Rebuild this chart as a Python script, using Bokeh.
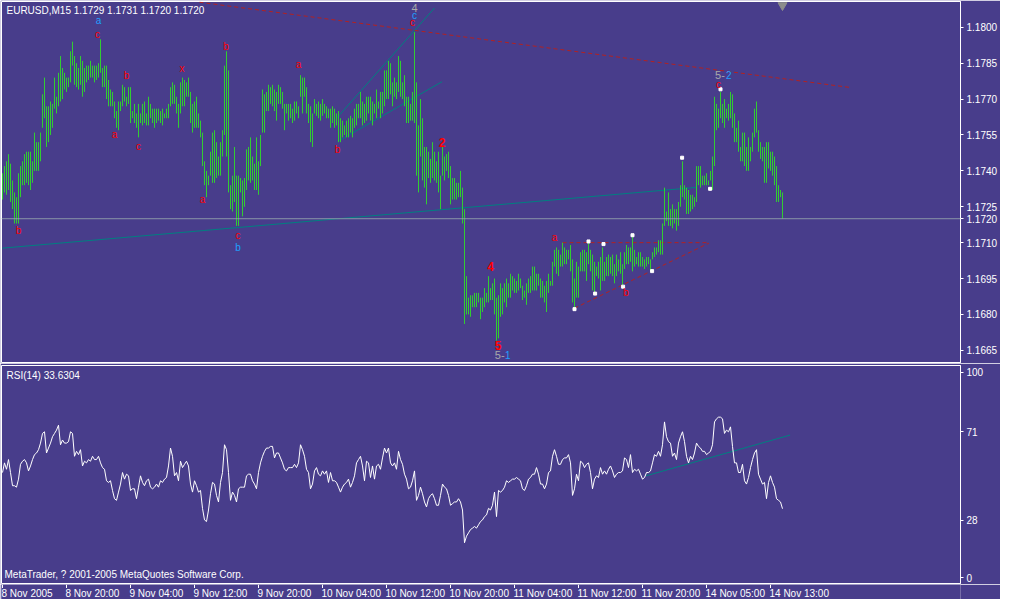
from bokeh.plotting import figure
from bokeh.layouts import column
from bokeh.models import Range1d, FixedTicker, Label, Span
from bokeh.core.properties import value
from bokeh.embed import file_html
from bokeh.resources import INLINE

symbol = "EURUSD,M15"
last_ohlc = [1.1729, 1.1731, 1.1720, 1.1720]

high = [
1.1739, 1.1742, 1.1744, 1.1747, 1.1743, 1.1736, 1.1731, 1.1729, 1.1739, 1.1742,
1.1744, 1.1747, 1.1748, 1.1748, 1.1748, 1.1744, 1.1756, 1.1752, 1.1752, 1.1756,
1.1772, 1.1779, 1.1767, 1.1767, 1.1769, 1.1768, 1.1779, 1.1771, 1.1781, 1.1788,
1.1783, 1.1781, 1.1779, 1.1779, 1.1790, 1.1794, 1.1788, 1.1785, 1.1783, 1.1788,
1.1786, 1.1783, 1.1784, 1.1784, 1.1786, 1.1784, 1.1784, 1.1784, 1.1785, 1.1795,
1.1783, 1.1784, 1.1784, 1.1778, 1.1774, 1.1773, 1.1769, 1.1765, 1.1769, 1.1769,
1.1776, 1.1775, 1.1771, 1.1775, 1.1775, 1.1765, 1.1768, 1.1764, 1.1768, 1.1764,
1.1768, 1.1769, 1.1764, 1.1771, 1.1768, 1.1766, 1.1766, 1.1766, 1.1766, 1.1765,
1.1766, 1.1764, 1.1766, 1.1768, 1.1775, 1.1777, 1.1776, 1.1771, 1.1768, 1.1777,
1.1779, 1.1778, 1.1777, 1.1779, 1.1773, 1.1768, 1.1769, 1.1771, 1.1764, 1.1761,
1.1756, 1.1744, 1.1740, 1.1738, 1.1748, 1.1756, 1.1757, 1.1752, 1.1746, 1.1752,
1.1757, 1.1784, 1.1790, 1.1782, 1.1734, 1.1738, 1.1750, 1.1738, 1.1738, 1.1737,
1.1736, 1.1737, 1.1749, 1.1750, 1.1754, 1.1746, 1.1743, 1.1754, 1.1744, 1.1755,
1.1774, 1.1772, 1.1773, 1.1776, 1.1775, 1.1776, 1.1774, 1.1773, 1.1776, 1.1775,
1.1773, 1.1768, 1.1768, 1.1768, 1.1768, 1.1766, 1.1769, 1.1769, 1.1767, 1.1780,
1.1779, 1.1779, 1.1775, 1.1768, 1.1767, 1.1764, 1.1770, 1.1768, 1.1769, 1.1768,
1.1770, 1.1768, 1.1767, 1.1766, 1.1766, 1.1767, 1.1766, 1.1764, 1.1765, 1.1762,
1.1761, 1.1759, 1.1761, 1.1762, 1.1763, 1.1762, 1.1766, 1.1768, 1.1768, 1.1773,
1.1769, 1.1768, 1.1771, 1.1771, 1.1771, 1.1769, 1.1768, 1.1774, 1.1769, 1.1773,
1.1773, 1.1782, 1.1782, 1.1786, 1.1785, 1.1777, 1.1779, 1.1777, 1.1788, 1.1786,
1.1777, 1.1780, 1.1771, 1.1771, 1.1768, 1.1773, 1.1798, 1.1777, 1.1759, 1.1770,
1.1762, 1.1750, 1.1750, 1.1748, 1.1745, 1.1752, 1.1748, 1.1744, 1.1748, 1.1738,
1.1750, 1.1746, 1.1747, 1.1748, 1.1742, 1.1737, 1.1737, 1.1735, 1.1735, 1.1740,
1.1733, 1.1724, 1.1696, 1.1687, 1.1688, 1.1688, 1.1689, 1.1689, 1.1689, 1.1687,
1.1687, 1.1691, 1.1689, 1.1696, 1.1691, 1.1693, 1.1695, 1.1687, 1.1688, 1.1693,
1.1691, 1.1693, 1.1695, 1.1693, 1.1697, 1.1696, 1.1695, 1.1694, 1.1697, 1.1695,
1.1692, 1.1690, 1.1693, 1.1695, 1.1696, 1.1700, 1.1700, 1.1697, 1.1697, 1.1695,
1.1694, 1.1692, 1.1694, 1.1697, 1.1694, 1.1702, 1.1707, 1.1708, 1.1707, 1.1705,
1.1710, 1.1708, 1.1707, 1.1707, 1.1709, 1.1703, 1.1695, 1.1702, 1.1700, 1.1706,
1.1707, 1.1707, 1.1706, 1.1710, 1.1707, 1.1705, 1.1702, 1.1700, 1.1702, 1.1704,
1.1708, 1.1702, 1.1704, 1.1705, 1.1704, 1.1705, 1.1701, 1.1705, 1.1703, 1.1706,
1.1701, 1.1706, 1.1709, 1.1708, 1.1708, 1.1713, 1.1707, 1.1704, 1.1706, 1.1706,
1.1704, 1.1703, 1.1704, 1.1704, 1.1703, 1.1706, 1.1708, 1.1708, 1.1711, 1.1711,
1.1718, 1.1733, 1.1723, 1.1731, 1.1724, 1.1726, 1.1724, 1.1724, 1.1727, 1.1734,
1.1744, 1.1734, 1.1733, 1.1732, 1.1730, 1.1730, 1.1729, 1.1742, 1.1742, 1.1742,
1.1738, 1.1738, 1.1739, 1.1736, 1.1740, 1.1746, 1.1771, 1.1768, 1.1766, 1.1773,
1.1768, 1.1770, 1.1766, 1.1768, 1.1773, 1.1772, 1.1764, 1.1758, 1.1761, 1.1750,
1.1756, 1.1756, 1.1750, 1.1754, 1.1750, 1.1756, 1.1766, 1.1769, 1.1757, 1.1752,
1.1750, 1.1750, 1.1752, 1.1752, 1.1748, 1.1748, 1.1746, 1.1742, 1.1734, 1.1732, 1.1731,
]

low = [
1.1728, 1.1731, 1.1730, 1.1732, 1.1727, 1.1724, 1.1718, 1.1718, 1.1718, 1.1729,
1.1734, 1.1734, 1.1735, 1.1734, 1.1732, 1.1735, 1.1740, 1.1740, 1.1740, 1.1744,
1.1758, 1.1762, 1.1750, 1.1752, 1.1755, 1.1758, 1.1766, 1.1764, 1.1767, 1.1769,
1.1770, 1.1774, 1.1773, 1.1775, 1.1777, 1.1784, 1.1776, 1.1775, 1.1774, 1.1776,
1.1771, 1.1773, 1.1777, 1.1778, 1.1779, 1.1779, 1.1777, 1.1778, 1.1779, 1.1781,
1.1775, 1.1775, 1.1770, 1.1767, 1.1767, 1.1767, 1.1762, 1.1758, 1.1757, 1.1765,
1.1767, 1.1769, 1.1767, 1.1768, 1.1760, 1.1762, 1.1760, 1.1758, 1.1754, 1.1760,
1.1759, 1.1760, 1.1759, 1.1759, 1.1762, 1.1760, 1.1758, 1.1760, 1.1761, 1.1760,
1.1759, 1.1762, 1.1762, 1.1762, 1.1767, 1.1768, 1.1768, 1.1764, 1.1758, 1.1764,
1.1767, 1.1767, 1.1771, 1.1771, 1.1760, 1.1756, 1.1758, 1.1758, 1.1758, 1.1754,
1.1742, 1.1734, 1.1729, 1.1734, 1.1738, 1.1735, 1.1735, 1.1737, 1.1738, 1.1738,
1.1746, 1.1755, 1.1746, 1.1731, 1.1724, 1.1723, 1.1727, 1.1717, 1.1717, 1.1731,
1.1721, 1.1725, 1.1732, 1.1736, 1.1735, 1.1736, 1.1732, 1.1732, 1.1730, 1.1742,
1.1756, 1.1756, 1.1765, 1.1765, 1.1768, 1.1767, 1.1765, 1.1761, 1.1768, 1.1768,
1.1766, 1.1757, 1.1764, 1.1761, 1.1762, 1.1760, 1.1761, 1.1764, 1.1762, 1.1771,
1.1764, 1.1771, 1.1764, 1.1760, 1.1752, 1.1750, 1.1764, 1.1763, 1.1762, 1.1761,
1.1763, 1.1764, 1.1762, 1.1762, 1.1758, 1.1760, 1.1758, 1.1759, 1.1752, 1.1752,
1.1754, 1.1755, 1.1754, 1.1754, 1.1756, 1.1754, 1.1758, 1.1759, 1.1762, 1.1762,
1.1759, 1.1760, 1.1761, 1.1764, 1.1761, 1.1759, 1.1764, 1.1762, 1.1766, 1.1762,
1.1764, 1.1767, 1.1770, 1.1770, 1.1772, 1.1767, 1.1771, 1.1770, 1.1773, 1.1771,
1.1770, 1.1767, 1.1760, 1.1760, 1.1761, 1.1761, 1.1760, 1.1738, 1.1731, 1.1746,
1.1736, 1.1733, 1.1726, 1.1737, 1.1735, 1.1737, 1.1736, 1.1735, 1.1731, 1.1724,
1.1738, 1.1736, 1.1740, 1.1737, 1.1726, 1.1728, 1.1728, 1.1728, 1.1729, 1.1729,
1.1718, 1.1676, 1.1680, 1.1680, 1.1679, 1.1683, 1.1683, 1.1683, 1.1685, 1.1678,
1.1681, 1.1683, 1.1685, 1.1685, 1.1686, 1.1686, 1.1680, 1.1669, 1.1670, 1.1679,
1.1680, 1.1685, 1.1683, 1.1687, 1.1687, 1.1690, 1.1689, 1.1689, 1.1690, 1.1691,
1.1686, 1.1687, 1.1684, 1.1689, 1.1689, 1.1690, 1.1690, 1.1690, 1.1692, 1.1687,
1.1687, 1.1685, 1.1681, 1.1689, 1.1692, 1.1692, 1.1700, 1.1697, 1.1696, 1.1700,
1.1700, 1.1701, 1.1701, 1.1703, 1.1698, 1.1685, 1.1682, 1.1687, 1.1687, 1.1698,
1.1698, 1.1698, 1.1694, 1.1701, 1.1698, 1.1690, 1.1689, 1.1696, 1.1695, 1.1690,
1.1694, 1.1694, 1.1696, 1.1696, 1.1697, 1.1696, 1.1693, 1.1696, 1.1698, 1.1697,
1.1692, 1.1699, 1.1701, 1.1701, 1.1702, 1.1698, 1.1700, 1.1701, 1.1700, 1.1700,
1.1700, 1.1699, 1.1700, 1.1701, 1.1698, 1.1703, 1.1704, 1.1705, 1.1706, 1.1705,
1.1705, 1.1717, 1.1719, 1.1717, 1.1717, 1.1716, 1.1718, 1.1715, 1.1717, 1.1725,
1.1729, 1.1728, 1.1722, 1.1722, 1.1723, 1.1724, 1.1725, 1.1727, 1.1734, 1.1733,
1.1734, 1.1734, 1.1734, 1.1734, 1.1736, 1.1732, 1.1742, 1.1757, 1.1758, 1.1762,
1.1760, 1.1758, 1.1762, 1.1761, 1.1762, 1.1758, 1.1752, 1.1752, 1.1748, 1.1744,
1.1744, 1.1742, 1.1740, 1.1740, 1.1744, 1.1748, 1.1754, 1.1756, 1.1748, 1.1745,
1.1744, 1.1735, 1.1735, 1.1741, 1.1740, 1.1738, 1.1734, 1.1727, 1.1727, 1.1729, 1.1720,
]

rsi = [
51.2, 55.9, 52.8, 57.5, 51.2, 44.8, 44.8, 44.1, 48.0, 55.2,
56.7, 57.5, 55.9, 52.0, 54.4, 57.5, 59.9, 60.7, 62.3, 65.5,
70.2, 71.0, 60.7, 63.1, 65.5, 68.6, 70.2, 71.8, 74.2, 64.7,
67.0, 65.5, 65.5, 66.2, 71.0, 70.2, 59.1, 61.5, 59.9, 62.3,
54.4, 56.7, 55.9, 57.5, 56.7, 59.1, 57.5, 57.5, 59.1, 55.9,
53.6, 52.8, 47.2, 46.4, 47.2, 42.5, 38.5, 37.7, 41.7, 45.6,
51.2, 48.0, 50.4, 49.6, 42.5, 43.3, 43.3, 38.5, 44.1, 49.6,
46.4, 44.8, 47.2, 48.0, 44.1, 43.3, 44.1, 45.6, 44.1, 47.2,
46.4, 48.0, 48.8, 54.4, 63.1, 59.1, 49.6, 51.2, 47.2, 56.7,
53.6, 55.2, 56.7, 54.4, 45.6, 41.7, 47.2, 44.8, 41.7, 42.5,
33.8, 28.2, 27.4, 33.0, 40.9, 46.4, 45.6, 40.1, 36.9, 46.4,
51.2, 64.7, 62.3, 51.2, 37.7, 41.7, 40.1, 36.9, 43.3, 44.1,
44.1, 44.1, 49.6, 50.4, 50.4, 47.2, 45.6, 43.3, 51.2, 55.9,
59.1, 61.5, 63.1, 63.1, 63.9, 63.9, 58.3, 60.7, 60.7, 58.3,
55.9, 52.8, 52.0, 53.6, 53.6, 53.6, 55.2, 53.6, 55.9, 64.7,
62.3, 59.1, 52.8, 51.2, 43.3, 45.6, 52.0, 53.6, 50.4, 49.6,
52.0, 50.4, 52.0, 46.4, 51.2, 47.2, 47.2, 46.4, 44.1, 41.7,
44.1, 45.6, 46.4, 48.0, 44.1, 46.4, 49.6, 55.9, 57.5, 59.1,
54.4, 47.2, 56.7, 55.9, 48.8, 54.4, 48.0, 54.4, 55.2, 52.8,
58.3, 63.1, 60.7, 63.1, 55.9, 54.4, 55.9, 52.8, 61.5, 57.5,
55.2, 50.4, 48.0, 43.3, 44.1, 47.2, 52.0, 37.7, 40.1, 44.1,
40.9, 36.9, 34.5, 38.5, 40.1, 40.9, 38.5, 35.3, 35.3, 40.1,
45.6, 44.1, 43.3, 40.1, 35.3, 36.1, 36.9, 36.9, 38.5, 36.9,
33.0, 17.1, 20.3, 21.9, 23.5, 24.2, 25.0, 24.2, 25.8, 27.4,
28.2, 29.8, 30.6, 33.8, 33.0, 35.3, 41.7, 29.8, 42.5, 41.7,
42.5, 44.1, 47.2, 46.4, 47.2, 48.0, 48.0, 48.8, 48.0, 47.2,
43.3, 42.5, 44.8, 48.0, 48.8, 50.4, 50.4, 53.6, 50.4, 45.6,
45.6, 43.3, 45.6, 51.2, 52.0, 59.1, 62.3, 59.1, 55.2, 55.2,
57.5, 58.3, 58.3, 59.9, 55.9, 40.1, 43.3, 50.4, 47.2, 56.7,
55.9, 53.6, 55.2, 55.9, 51.2, 43.3, 48.0, 49.6, 48.8, 53.6,
50.4, 52.0, 50.4, 52.8, 54.4, 52.0, 48.8, 50.4, 51.2, 51.2,
52.0, 58.3, 57.5, 53.6, 59.9, 51.2, 52.8, 52.0, 52.8, 50.4,
48.0, 48.8, 51.2, 51.2, 52.0, 55.9, 59.9, 59.1, 61.5, 59.1,
64.7, 75.8, 68.6, 66.2, 65.5, 59.1, 60.7, 57.5, 65.5, 68.6,
71.0, 66.2, 59.1, 55.9, 59.1, 57.5, 60.7, 65.5, 63.9, 63.1,
61.5, 61.5, 59.9, 60.7, 61.5, 64.7, 75.8, 77.3, 78.1, 78.1,
77.3, 70.2, 71.8, 71.0, 73.4, 63.9, 55.9, 55.9, 51.2, 51.2,
55.2, 47.2, 45.6, 48.8, 53.6, 57.5, 60.7, 62.3, 50.4, 48.0,
45.6, 46.4, 38.5, 46.4, 49.6, 46.4, 44.1, 38.5, 37.7, 36.9, 33.6304,
]

time_ticks = [0, 32, 64, 96, 128, 160, 192, 224, 256, 288, 320, 352, 384]
time_labels = ["8 Nov 2005", "8 Nov 20:00", "9 Nov 04:00", "9 Nov 12:00", "9 Nov 20:00",
               "10 Nov 04:00", "10 Nov 12:00", "10 Nov 20:00", "11 Nov 04:00",
               "11 Nov 12:00", "11 Nov 20:00", "14 Nov 05:00", "14 Nov 13:00"]
price_ticks = [1.1665, 1.1680, 1.1695, 1.1710, 1.1725, 1.1740, 1.1755, 1.1770, 1.1785, 1.1800]
rsi_ticks = [0, 28, 71, 100]

# wave labels (bar index, price, text)
red_letters_x = [47.5, 62, 56, 68, 89.7, 111.8, 148, 100, 8, 117.8, 167.5, 205, 276, 311.8, 358]
red_letters_y = [1.1797, 1.1780, 1.1755, 1.1750, 1.1783, 1.1792, 1.17845, 1.1728, 1.1715, 1.1713,
                 1.1749, 1.1802, 1.1712, 1.1689, 1.1776]
red_letters = ["c", "b", "a", "c", "x", "b", "a", "a", "b", "c", "b", "c", "a", "b", "c"]
red_digits_x = [219.8, 244, 247.8]
red_digits_y = [1.1752, 1.1700, 1.1667]
red_digits = ["2", "4", "5"]
blue_x = [48, 117.8, 206, 252.7, 363.2]
blue_y = [1.1803, 1.1708, 1.1805, 1.1663, 1.1780]
blue_text = ["a", "b", "c", "1", "2"]
gray_x = [206, 248.6, 358.7]
gray_y = [1.1808, 1.1663, 1.1780]
gray_text = ["4", "5-", "5-"]

dots_x = [339.8, 353.8, 359, 286, 293, 300.5, 296.3, 310.3, 315, 324.8]
dots_y = [1.17455, 1.17325, 1.17741, 1.16822, 1.17105, 1.17094, 1.16887, 1.16916, 1.17131, 1.16981]

red_lines_x0 = [98.5, 280, 286]
red_lines_y0 = [1.18105, 1.1710, 1.16826]
red_lines_x1 = [423.5, 353.2, 353.2]
red_lines_y1 = [1.17749, 1.1710, 1.17098]
teal_lines_x0 = [0, 166.8, 167.7]
teal_lines_y0 = [1.17077, 1.17618, 1.17523]
teal_lines_x1 = [347, 216, 219.8]
teal_lines_y1 = [1.17331, 1.18081, 1.17773]
rsi_line_x = [321.7, 393.8]
rsi_line_y = [49.6, 69.4]

BG = "#483D8B"
FONT = "Liberation Sans"
idx = list(range(len(high)))
FW = 959            # chart width in px (2 px per bar)
X0 = -0.5           # left edge of the chart area (bar units)
XC = X0 + FW / 2    # right edge of the chart area (bar units)
x_chart = Range1d(X0, XC)
RB = 40             # right border reserved for the price / RSI scales


def style(p):
    p.background_fill_color = BG
    p.border_fill_color = BG
    p.outline_line_color = "white"
    p.outline_line_width = 1
    p.grid.visible = False
    ax = p.yaxis[0]
    ax.axis_line_color = "white"
    ax.major_tick_line_color = "white"
    ax.major_tick_out = 3
    ax.major_tick_in = 0
    ax.minor_tick_line_color = None
    ax.major_label_text_color = "white"
    ax.major_label_text_font = FONT
    ax.major_label_text_font_size = "10px"
    ax.major_label_standoff = 3


# ---------------- price panel ----------------
p1 = figure(width=1000, height=363, x_range=x_chart, y_range=Range1d(1.16599, 1.18108),
            output_backend="svg", toolbar_location=None, x_axis_location=None,
            y_axis_location="right", min_border_left=1, min_border_right=RB,
            min_border_top=1, min_border_bottom=1)
style(p1)
scale_ticks = sorted(price_ticks + [last_ohlc[3]])
p1.yaxis[0].ticker = FixedTicker(ticks=scale_ticks)
p1.yaxis[0].major_label_overrides = {t: f"{t:.4f}" for t in scale_ticks}

p1.add_layout(Span(location=last_ohlc[3], dimension="width", line_color="#8A96A8", line_width=1))
p1.segment(x0=teal_lines_x0, y0=teal_lines_y0, x1=teal_lines_x1, y1=teal_lines_y1,
           line_color="#008080", line_width=1)
p1.segment(x0=red_lines_x0, y0=red_lines_y0, x1=red_lines_x1, y1=red_lines_y1,
           line_color="#B22222", line_width=1, line_dash="4 3")
p1.segment(x0=idx, y0=low, x1=idx, y1=high, line_color="#32CD32", line_width=1)
p1.scatter(x=dots_x, y=dots_y, marker="square", size=3, color="white")
p1.scatter(x=[idx[-1]], y=[1.18092], marker="inverted_triangle", size=9, color="#8C8C8C")

p1.text(x=red_letters_x, y=red_letters_y, text=red_letters, text_color="#FF0000",
        text_font=value(FONT), text_font_size="10px", text_align="center", text_baseline="middle")
p1.text(x=red_digits_x, y=red_digits_y, text=red_digits, text_color="#FF0000",
        text_font=value(FONT), text_font_size="12px", text_font_style="bold",
        text_align="center", text_baseline="middle")
p1.text(x=blue_x, y=blue_y, text=blue_text, text_color="#1EA0FF",
        text_font=value(FONT), text_font_size="10px", text_align="center", text_baseline="middle")
p1.text(x=gray_x, y=gray_y, text=gray_text, text_color="#A9A9A9",
        text_font=value(FONT), text_font_size="11px", text_align="center", text_baseline="middle")

title = symbol + "  " + " ".join(f"{v:.4f}" for v in last_ohlc)
p1.add_layout(Label(x=5, y=352, x_units="screen", y_units="screen", text=title,
                    text_color="white", text_font=FONT, text_font_size="10px",
                    text_baseline="middle"))

# ---------------- RSI panel ----------------
p2 = figure(width=1000, height=221, x_range=x_chart, y_range=Range1d(-2.7, 103.2),
            output_backend="svg", toolbar_location=None, y_axis_location="right",
            x_axis_location=None,
            min_border_left=1, min_border_right=RB, min_border_top=2, min_border_bottom=1)
style(p2)
p2.yaxis[0].ticker = FixedTicker(ticks=rsi_ticks)

p2.segment(x0=[rsi_line_x[0]], y0=[rsi_line_y[0]], x1=[rsi_line_x[1]], y1=[rsi_line_y[1]],
           line_color="#008080", line_width=1)
p2.line(x=idx, y=rsi, line_color="white", line_width=1)
p2.add_layout(Label(x=5, y=208, x_units="screen", y_units="screen",
                    text=f"RSI(14) {rsi[-1]:.4f}", text_color="white", text_font=FONT,
                    text_font_size="10px", text_baseline="middle"))
p2.add_layout(Label(x=3, y=9, x_units="screen", y_units="screen",
                    text="MetaTrader, ? 2001-2005 MetaQuotes Software Corp.", text_color="white",
                    text_font=FONT, text_font_size="10px", text_baseline="middle"))

# ---------------- time scale ----------------
p3 = figure(width=1000, height=15, x_range=x_chart, y_range=Range1d(0, 15),
            output_backend="svg", toolbar_location=None, x_axis_location=None,
            y_axis_location=None, min_border_left=1, min_border_right=RB,
            min_border_top=0, min_border_bottom=0)
p3.background_fill_color = BG
p3.border_fill_color = BG
p3.outline_line_color = None
p3.grid.visible = False
p3.segment(x0=time_ticks, y0=[15] * len(time_ticks), x1=time_ticks, y1=[11.5] * len(time_ticks),
           line_color="white", line_width=1)
p3.text(x=time_ticks, y=[6.5] * len(time_ticks), text=time_labels, x_offset=-1,
        text_color="white", text_font=value(FONT), text_font_size="10px",
        text_align="left", text_baseline="middle")

layout = column(p1, p2, p3)
open("out.html", "w").write(file_html(layout, INLINE))
